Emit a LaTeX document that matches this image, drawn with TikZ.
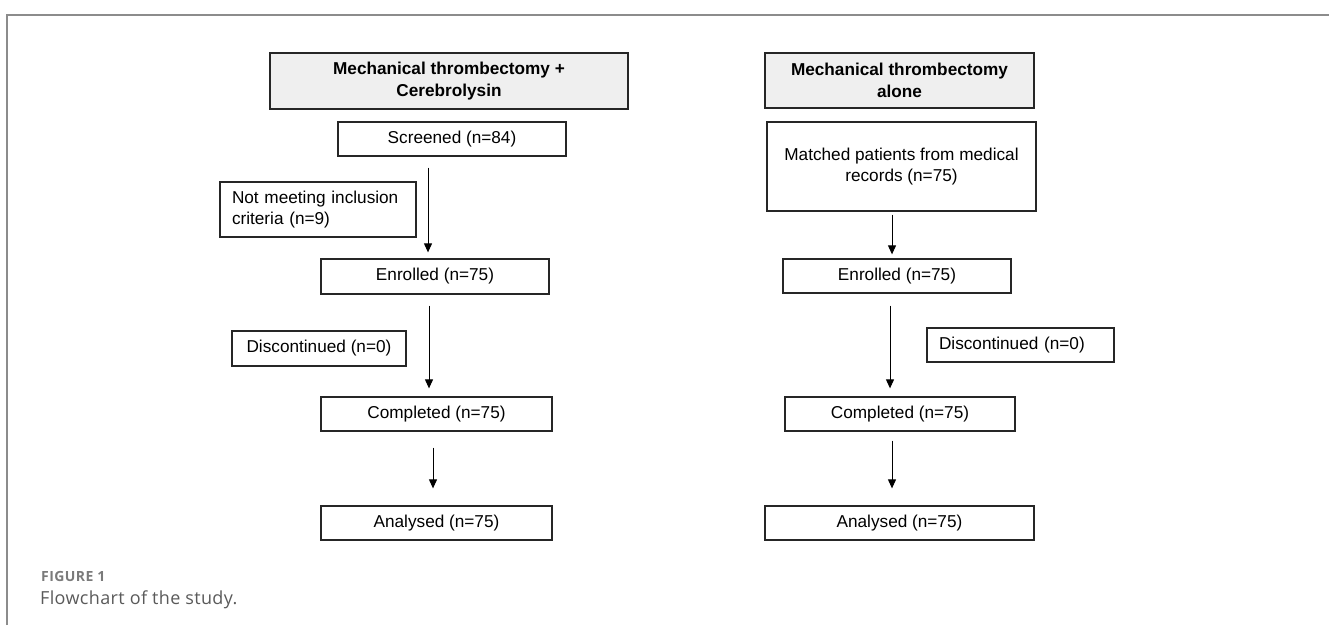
\documentclass[tikz,border=0pt]{standalone}
\usepackage{fontspec}
\setmainfont{Liberation Sans}
\newfontfamily\capfont{Open Sans}[LetterSpace=2]
\newfontfamily\figfont{Open Sans}[LetterSpace=3]
\usetikzlibrary{arrows.meta}
\definecolor{hdrfill}{HTML}{EFEFEF}
\definecolor{framegray}{HTML}{8C8C8C}
\definecolor{capgray}{HTML}{7A7A7A}
\definecolor{captext}{HTML}{5A5A5A}
\tikzset{
  box/.style={draw=black!85, line width=1.3pt, inner sep=0pt, align=center,
    font=\fontsize{17.2}{21.7}\selectfont},
  hdr/.style={box, fill=hdrfill, font=\fontsize{17.2}{21.7}\selectfont\bfseries},
  arr/.style={line width=1pt, -{Triangle[width=8pt,length=9pt]}},
  frame/.style={draw=framegray, line width=1.5pt},
  captxt/.style={anchor=base west, inner sep=0pt}
}
\begin{document}
\begin{tikzpicture}[x=1pt,y=-1pt]
\useasboundingbox (0,0) rectangle (1329,625);
\draw[frame] (7,625) -- (7,15) -- (1329,15);
% left column
\node[hdr, minimum width=358, minimum height=56] (H1) at (449,81) {Mechanical thrombectomy +\\Cerebrolysin};
\node[box, minimum width=228, minimum height=34] (S1) at (452,139) {Screened (n=84)};
\node[box, minimum width=196, minimum height=55, align=left, text width=172] (N1) at (318,209.5) {Not meeting inclusion\\criteria (n=9)};
\node[box, minimum width=228, minimum height=35] (E1) at (435,276.5) {Enrolled (n=75)};
\node[box, minimum width=174, minimum height=35] (D1) at (319,348.5) {Discontinued (n=0)};
\node[box, minimum width=231, minimum height=34] (C1) at (436.5,414) {Completed (n=75)};
\node[box, minimum width=231, minimum height=34] (A1) at (436.5,523) {Analysed (n=75)};
% right column
\node[hdr, minimum width=269, minimum height=55] (H2) at (899.5,80.5) {Mechanical thrombectomy\\alone};
\node[box, minimum width=269, minimum height=89] (M2) at (901.5,166.5) {Matched patients from medical\\records (n=75)};
\node[box, minimum width=228, minimum height=34] (E2) at (897,276) {Enrolled (n=75)};
\node[box, minimum width=187, minimum height=34, align=left, text width=163] (D2) at (1020.5,345) {Discontinued (n=0)};
\node[box, minimum width=230, minimum height=34] (C2) at (900,414) {Completed (n=75)};
\node[box, minimum width=269, minimum height=34] (A2) at (899.5,523) {Analysed (n=75)};
% arrows
\draw[arr] ([shift={(-24,11)}]S1.south) -- ([shift={(-7,-6)}]E1.north);
\draw[arr] ([shift={(-6,11)}]E1.south) -- ([shift={(-7.5,-8)}]C1.north);
\draw[arr] ([shift={(-3.5,16)}]C1.south) -- ([shift={(-3.5,-17)}]A1.north);
\draw[arr] ([shift={(-9.5,3)}]M2.south) -- ([shift={(-5,-4)}]E2.north);
\draw[arr] ([shift={(-7,12)}]E2.south) -- ([shift={(-10,-8)}]C2.north);
\draw[arr] ([shift={(-8,9)}]C2.south) -- ([shift={(-7.5,-17)}]A2.north);
% caption
\node[captxt] (fig) at (41,581) {\figfont\bfseries\fontsize{14}{16}\selectfont\color{capgray}FIGURE 1};
\node[captxt] (cap) at (40,604) {\capfont\fontsize{18}{21}\selectfont\color{captext}Flowchart of the study.};
\end{tikzpicture}
\end{document}
